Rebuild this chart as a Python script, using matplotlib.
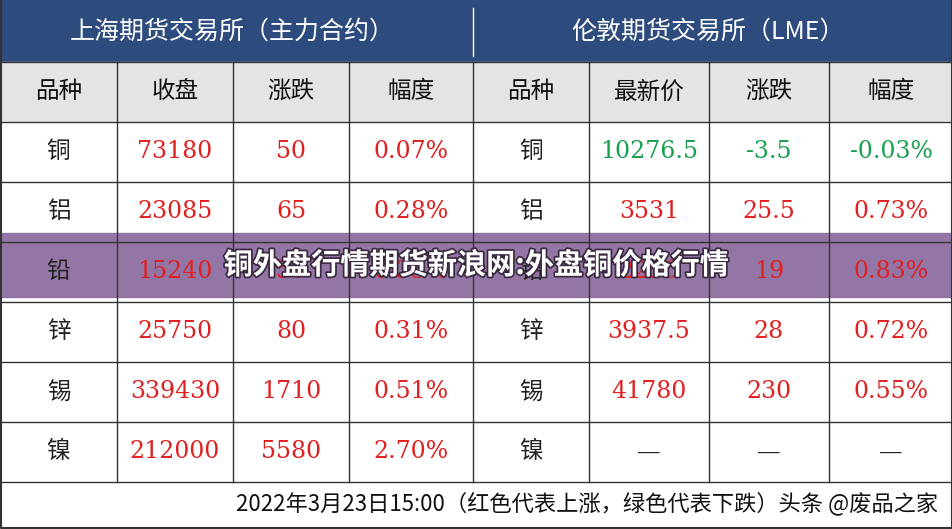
import matplotlib.pyplot as plt
import matplotlib.patheffects as pe

plt.rcParams['font.family'] = ['Noto Sans CJK SC', 'DejaVu Sans']

left_title = '上海期货交易所（主力合约）'
right_title = '伦敦期货交易所（LME）'
headers = ['品种', '收盘', '涨跌', '幅度', '品种', '最新价', '涨跌', '幅度']
metals = ['铜', '铝', '铅', '锌', '锡', '镍']
shfe_close = ['73180', '23085', '15240', '25750', '339430', '212000']
shfe_chg = ['50', '65', '50', '80', '1710', '5580']
shfe_pct = ['0.07%', '0.28%', '0.33%', '0.31%', '0.51%', '2.70%']
lme_last = ['10276.5', '3531', '2236', '3937.5', '41780', '—']
lme_chg = ['-3.5', '25.5', '19', '28', '230', '—']
lme_pct = ['-0.03%', '0.73%', '0.83%', '0.72%', '0.55%', '—']
footer = '2022年3月23日15:00（红色代表上涨，绿色代表下跌）头条 @废品之家'
overlay = '铜外盘行情期货新浪网:外盘铜价格行情'

col_x = [0, 117, 233, 349, 473, 589, 709, 829, 953]
row_y = [0, 62, 122, 182, 242, 302, 362, 422, 482, 529]
RED, GREEN, NAVY = '#E02020', '#18A050', '#2D4B7C'

fig = plt.figure(figsize=(9.53, 5.29), dpi=100)
ax = fig.add_axes([0, 0, 1, 1])
ax.set_xlim(0, 953)
ax.set_ylim(529, 0)
ax.axis('off')

ax.add_patch(plt.Rectangle((0, 0), 953, 62, color=NAVY))
ax.add_patch(plt.Rectangle((0, 62), 953, 60, color='#E4E4E4'))
ax.add_patch(plt.Rectangle((0, 122), 953, 407, color='white'))
ax.text(232, 32, left_title, color='white', fontsize=18, ha='center', va='center')
ax.text(708, 32, right_title, color='white', fontsize=18, ha='center', va='center')
ax.plot([473, 473], [8, 56], color='white', lw=1)

for i, h in enumerate(headers):
    ax.text((col_x[i] + col_x[i + 1]) / 2, 92, h, fontsize=17, ha='center', va='center', color='#111111')

def color_of(s):
    if s == '—':
        return '#222222'
    return GREEN if s.startswith('-') else RED

for r, m in enumerate(metals):
    yc = (row_y[r + 2] + row_y[r + 3]) / 2
    vals = [m, shfe_close[r], shfe_chg[r], shfe_pct[r], m, lme_last[r], lme_chg[r], lme_pct[r]]
    for i, v in enumerate(vals):
        if i in (0, 4):
            c = '#222222'
        elif i == 5:
            c = color_of(lme_chg[r])
        else:
            c = color_of(v)
        ax.text((col_x[i] + col_x[i + 1]) / 2, yc, v, fontsize=17, ha='center', va='center', color=c,
                family=['DejaVu Serif', 'Noto Sans CJK SC'] if i not in (0, 4) else None)

for y in row_y[1:]:
    ax.plot([0, 953], [y, y], color='#333333', lw=1)
for x in col_x[1:-1]:
    ax.plot([x, x], [62, 482], color='#333333', lw=1)
ax.plot([1, 1, 952, 952], [0, 528, 528, 0], color='#333333', lw=1.5)

ax.text(938, 503, footer, fontsize=16, ha='right', va='center', color='#111111')

ax.add_patch(plt.Rectangle((0, 233), 953, 64, color='#8C6C9F', alpha=0.93))
ax.text(476, 265, overlay, fontsize=21, fontweight='bold', ha='center', va='center', color='white',
        path_effects=[pe.withStroke(linewidth=2.5, foreground='#3A2A40')])

fig.savefig('out.png', dpi=100)
